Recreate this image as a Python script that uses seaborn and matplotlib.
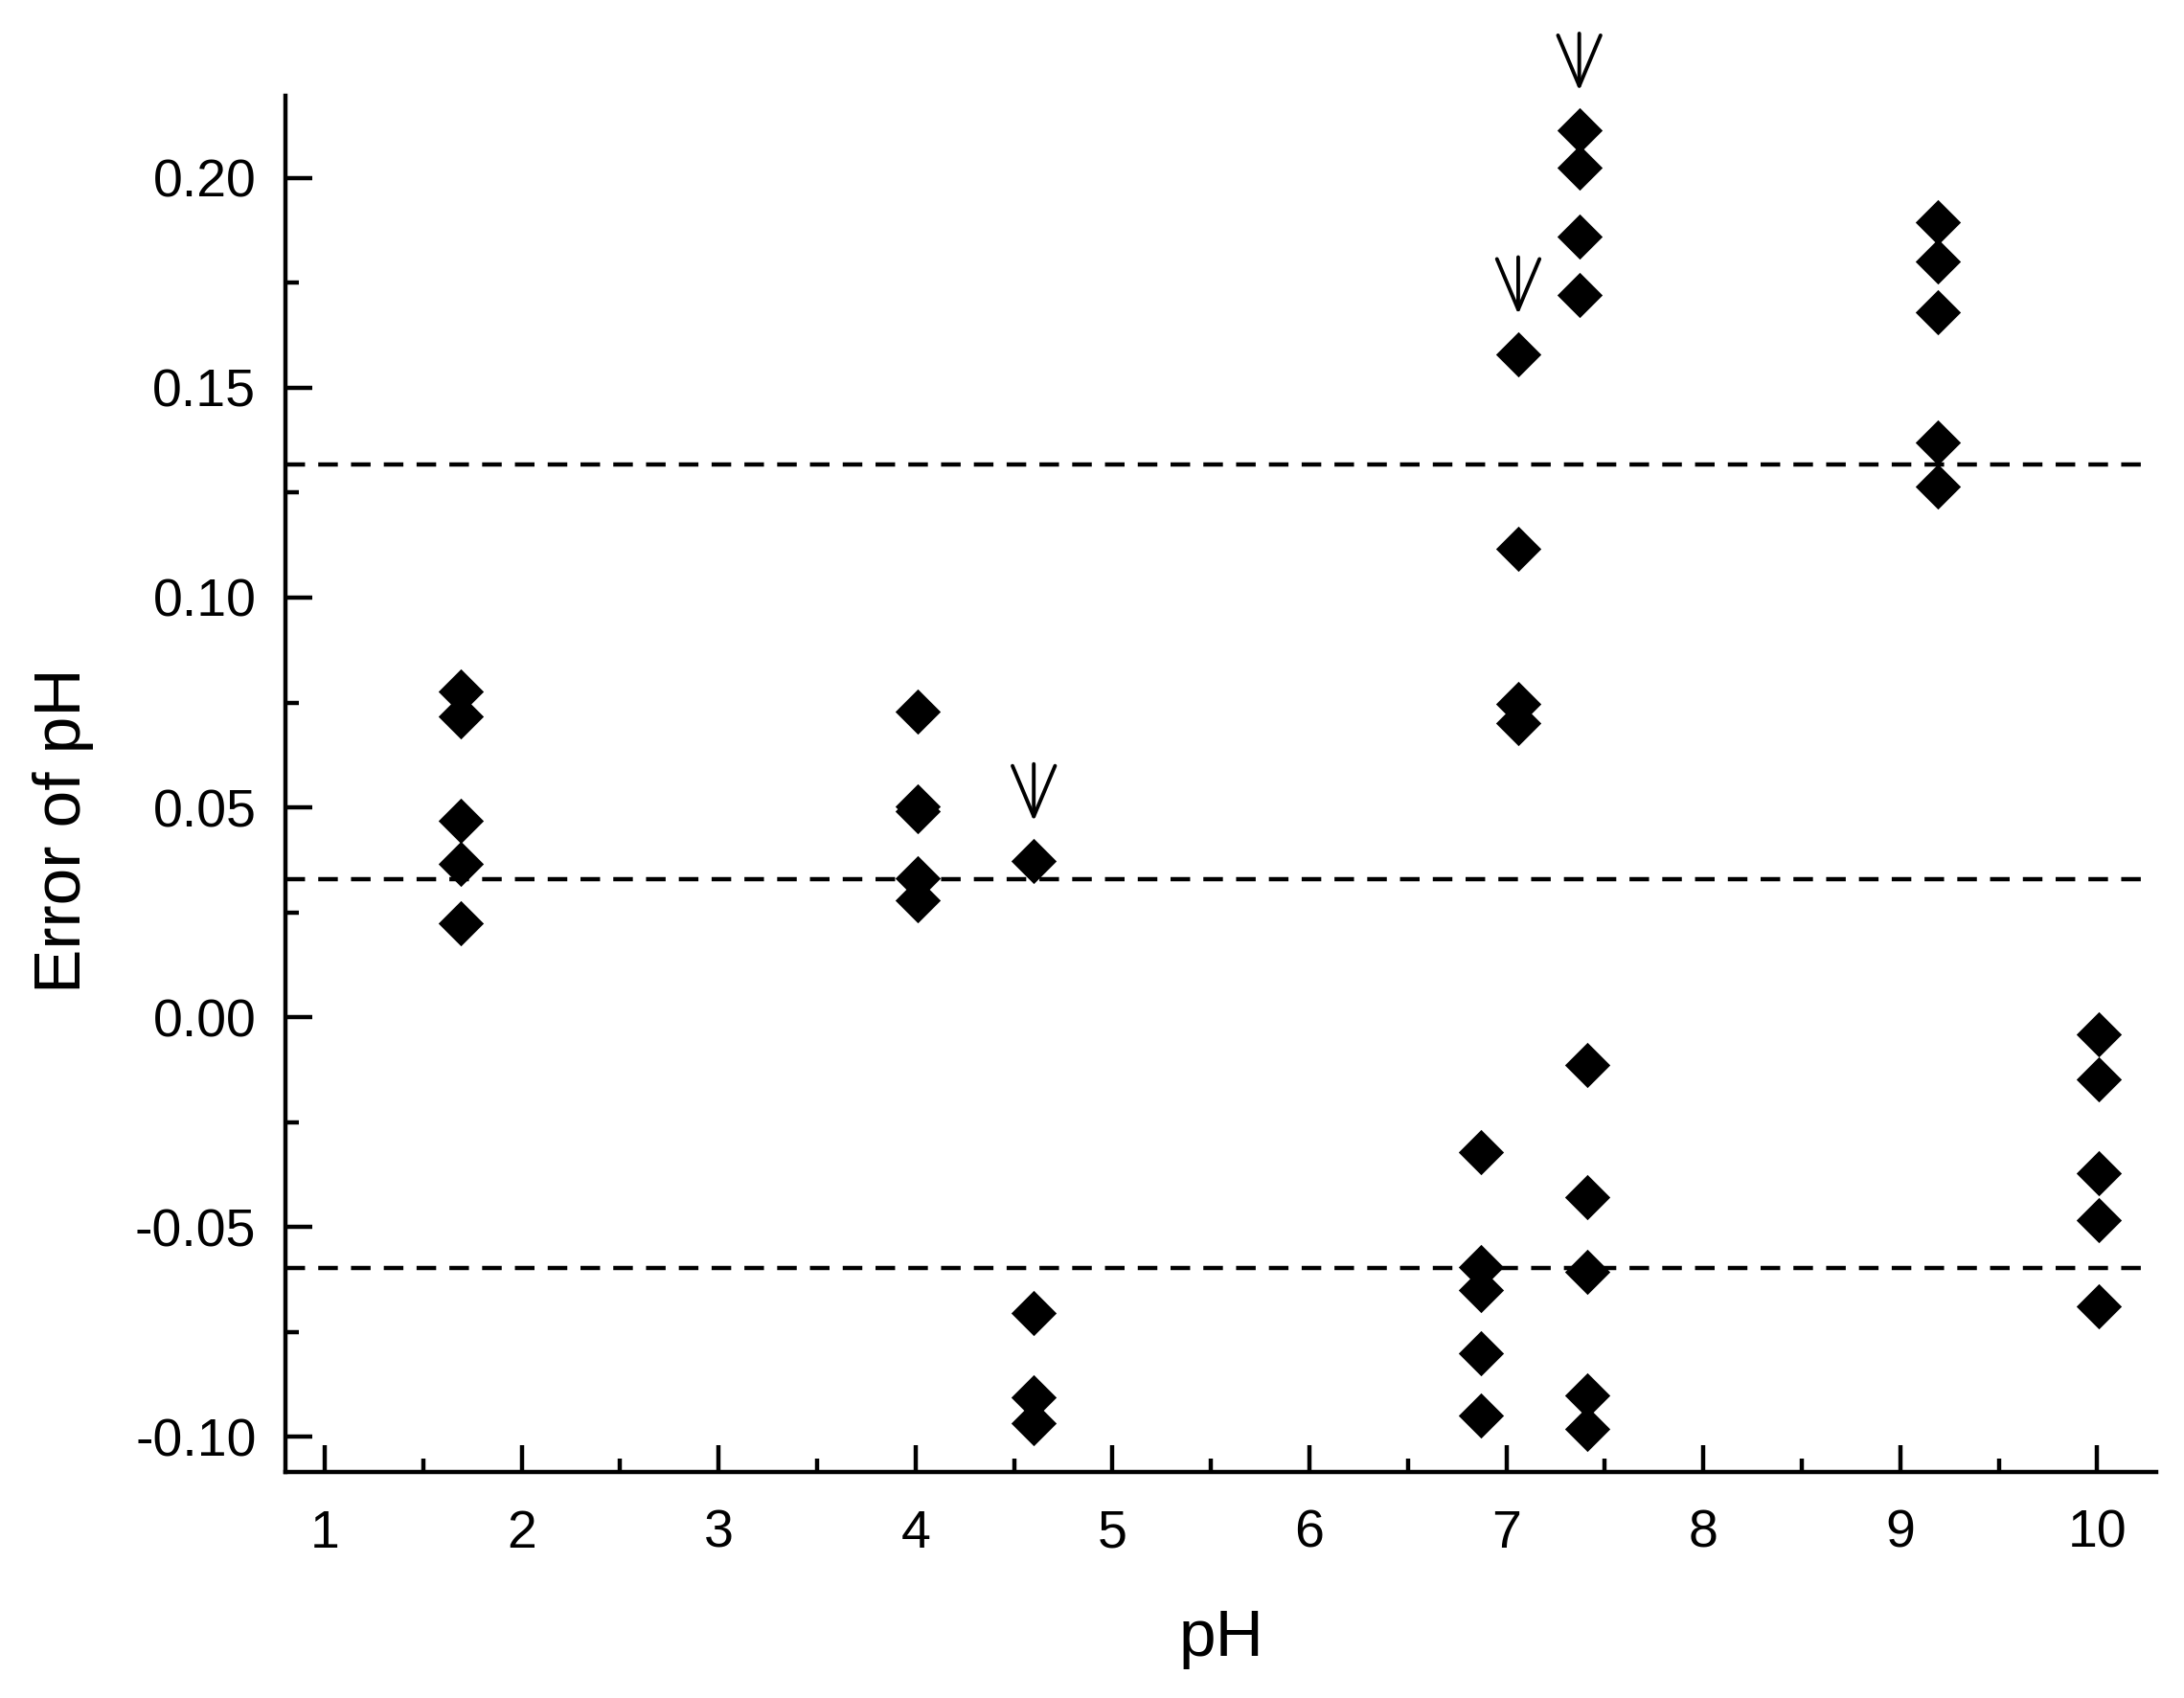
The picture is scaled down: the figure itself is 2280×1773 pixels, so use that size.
import matplotlib
matplotlib.use("Agg")
import matplotlib.pyplot as plt
from matplotlib.ticker import MultipleLocator, FormatStrFormatter
import seaborn as sns
import pandas as pd

# ---- data ----
ph_values = [1.69, 4.01, 4.60, 6.87, 7.06, 7.37, 7.41, 9.19, 10.01]
err_ph169 = [0.0777, 0.0717, 0.0469, 0.0366, 0.0225]
err_ph401 = [0.0728, 0.0503, 0.0490, 0.0332, 0.0279]
err_ph460 = [0.0372, -0.0706, -0.0905, -0.0968]
err_ph687 = [-0.0322, -0.0596, -0.0651, -0.0801, -0.0950]
err_ph706 = [0.1580, 0.1117, 0.0747, 0.0701]
err_ph737 = [0.2113, 0.2025, 0.1861, 0.1721]
err_ph741 = [-0.0114, -0.0429, -0.0607, -0.0902, -0.0982]
err_ph919 = [0.1895, 0.1801, 0.1680, 0.1370, 0.1265]
err_ph1001 = [-0.0040, -0.0148, -0.0372, -0.0483, -0.0688]
err_groups = [err_ph169, err_ph401, err_ph460, err_ph687, err_ph706,
              err_ph737, err_ph741, err_ph919, err_ph1001]

dashed_levels = [0.1317, 0.0329, -0.0598]
arrow_ph = [4.60, 7.06, 7.37]
arrow_err = [0.0372, 0.1580, 0.2113]

x_ticks = [1, 2, 3, 4, 5, 6, 7, 8, 9, 10]
y_ticks = [-0.10, -0.05, 0.00, 0.05, 0.10, 0.15, 0.20]

rows = []
for p, errs in zip(ph_values, err_groups):
    for e in errs:
        rows.append({"pH": p, "err": e})
df = pd.DataFrame(rows)

# ---- style ----
sns.set_style("ticks")
plt.rcParams["font.family"] = ["Liberation Sans", "DejaVu Sans"]
plt.rcParams["axes.unicode_minus"] = False
plt.rcParams["text.color"] = "black"
plt.rcParams["axes.labelcolor"] = "black"

fig = plt.figure(figsize=(11.4, 8.865), dpi=200)
ax = fig.add_axes([0.1307, 0.1331, 0.9873 - 0.1307, 0.9436 - 0.1331])

sns.scatterplot(data=df, x="pH", y="err", marker="D", s=145, color="black",
                edgecolor="black", linewidth=0, ax=ax, legend=False, zorder=3)

ax.set_xlim(0.8, 10.30)
ax.set_ylim(-0.1084, 0.2196)

for lvl in dashed_levels:
    ax.hlines(lvl, 0.8, 10.28, colors="black", linewidth=1.6,
              linestyles=(0, (4.6, 3.1)), zorder=2)

for px, py in zip(arrow_ph, arrow_err):
    ax.annotate("", xy=(px, py), xycoords="data",
                xytext=(0, 36.5), textcoords="offset points",
                arrowprops=dict(arrowstyle="->,head_length=0.95,head_width=0.4",
                                mutation_scale=20, color="black", lw=1.4,
                                shrinkA=0, shrinkB=15))

sns.despine(ax=ax, top=True, right=True)
for side in ["left", "bottom"]:
    ax.spines[side].set_linewidth(1.6)
    ax.spines[side].set_color("black")

ax.set_xticks(x_ticks)
ax.set_yticks(y_ticks)
ax.xaxis.set_minor_locator(MultipleLocator(0.5))
ax.yaxis.set_minor_locator(MultipleLocator(0.025))
ax.yaxis.set_major_formatter(FormatStrFormatter("%.2f"))
ax.tick_params(which="major", direction="in", length=10, width=1.6,
               labelsize=20, colors="black")
ax.tick_params(which="minor", direction="in", length=5.2, width=1.6, colors="black")
ax.tick_params(axis="y", which="major", pad=11)
ax.tick_params(axis="x", which="major", pad=14)

ax.set_xlabel("pH", fontsize=25, color="black")
ax.set_ylabel("Error of pH", fontsize=25, color="black")
ax.xaxis.set_label_coords(0.5, -0.099)
ax.yaxis.set_label_coords(-0.1024, 0.466)

fig.savefig("out.png", dpi=200, facecolor="white")
